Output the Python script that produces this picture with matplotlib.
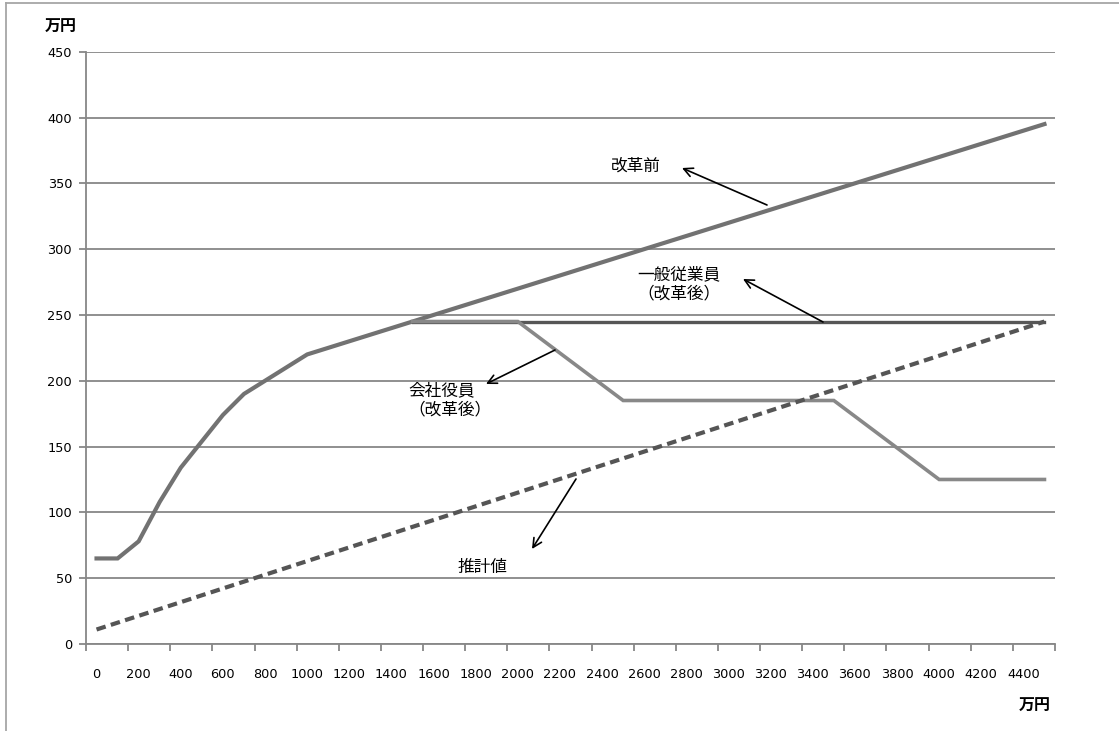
import matplotlib
matplotlib.use("Agg")
import matplotlib.pyplot as plt
from matplotlib.lines import Line2D

plt.rcParams['font.family'] = ['Noto Sans CJK JP', 'DejaVu Sans']

# 給与収入（万円）: 0, 100, ..., 4500
income = list(range(0, 4600, 100))

# 改革前の給与所得控除（万円）
deduction_before = [65, 65, 78, 108, 134, 154, 174, 190, 200, 210,
                    220, 225, 230, 235, 240, 245, 250, 255, 260, 265,
                    270, 275, 280, 285, 290, 295, 300, 305, 310, 315,
                    320, 325, 330, 335, 340, 345, 350, 355, 360, 365,
                    370, 375, 380, 385, 390, 395]

# 改革後（一般従業員）: 1500万円以上
employee_income = [1500, 4500]
employee_after = [245, 245]

# 改革後（会社役員）: 1500万円以上
officer_income = [1500, 2000, 2500, 3500, 4000, 4500]
officer_after = [245, 245, 185, 185, 125, 125]

# 推計値
estimate_income = [0, 4500]
estimate_values = [11, 245]

y_ticks = list(range(0, 451, 50))
x_label_ticks = list(range(0, 4401, 200))

W, H = 1119, 731
fig = plt.figure(figsize=(W / 100, H / 100), dpi=100)
ax = fig.add_axes([86 / W, (H - 644) / H, (1055 - 86) / W, (644 - 51.7) / H])

ax.set_xlim(-50, 4550)
ax.set_ylim(0, 450)

grid_c = '#878787'
ax.set_yticks(y_ticks)
ax.yaxis.grid(True, color=grid_c, linewidth=1.3)
ax.set_axisbelow(True)
for s in ['top', 'right']:
    ax.spines[s].set_visible(False)
for s in ['left', 'bottom']:
    ax.spines[s].set_color(grid_c)
    ax.spines[s].set_linewidth(1.3)

ax.tick_params(axis='y', length=5, width=1.3, color=grid_c, pad=5,
               labelsize=9.3, labelfontfamily='DejaVu Sans')
ax.set_yticklabels([str(v) for v in y_ticks])

# category boundaries as major ticks, category centres as labels
ax.set_xticks(list(range(-50, 4551, 200)))
ax.set_xticklabels([])
ax.tick_params(axis='x', which='major', length=5, width=1.3, color=grid_c)
ax.set_xticks(x_label_ticks, minor=True)
ax.set_xticklabels([str(v) for v in x_label_ticks], minor=True)
ax.tick_params(axis='x', which='minor', length=0, pad=17,
               labelsize=9.3, labelfontfamily='DejaVu Sans')

ax.plot(income, deduction_before, color='#727272', linewidth=3.0,
        solid_joinstyle='miter', zorder=3)
ax.plot(employee_income, employee_after, color='#565656', linewidth=2.4, zorder=4)
ax.plot(officer_income, officer_after, color='#888888', linewidth=2.6,
        solid_joinstyle='miter', zorder=5)
ax.plot(estimate_income, estimate_values, color='#555555', linewidth=3.0,
        linestyle=(0, (2.3, 1.3)), dash_capstyle='butt', zorder=6)


def px_to_data(px, py):
    return ((px - 86) / ((1055 - 86) / 4600) - 50, (644 - py) / ((644 - 51.7) / 450))


def note(text, text_px, tail_px, head_px, ha='center'):
    tx, ty = px_to_data(*text_px)
    ax.text(tx, ty, text, ha=ha, va='center', multialignment='left',
            fontsize=12, color='black', linespacing=1.15, zorder=7)
    ax.annotate('', xy=px_to_data(*head_px), xytext=px_to_data(*tail_px),
                arrowprops=dict(arrowstyle='->', color='black', lw=1.2,
                                mutation_scale=16, shrinkA=0, shrinkB=0),
                zorder=7)


note('改革前', (636, 166), (767, 205), (682, 168))
note('一般従業員\n（改革後）', (637, 284), (823, 322), (743, 279), ha='left')
note('会社役員\n（改革後）', (408, 400), (555, 350), (486, 384), ha='left')
note('推計値', (482, 567), (576, 479), (532, 549))

fig.text(61 / W, 1 - 27 / H, '万円', ha='center', va='center',
         fontsize=11.5, fontweight='bold')
fig.text(1035 / W, 1 - 706 / H, '万円', ha='center', va='center',
         fontsize=11.5, fontweight='bold')

# chart-area frame
frame_c = '#a6a6a6'
fig.add_artist(Line2D([6 / W, 6 / W], [0, 1 - 3 / H], color=frame_c, lw=1.3))
fig.add_artist(Line2D([6 / W, 1], [1 - 3 / H, 1 - 3 / H], color=frame_c, lw=1.3))

fig.savefig('out.png', dpi=100, facecolor='white')
